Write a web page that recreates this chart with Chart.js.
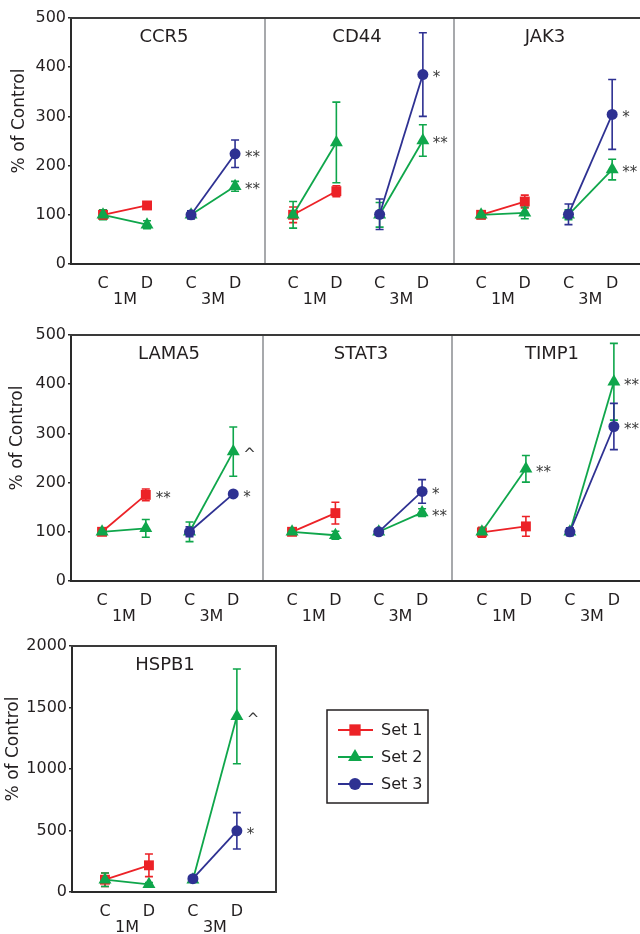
<!DOCTYPE html>
<html>
<head>
<meta charset="utf-8">
<script src="https://cdn.jsdelivr.net/npm/chart.js@4.4.1/dist/chart.umd.min.js"></script>
<style>
  html, body { margin: 0; padding: 0; background: #fff; overflow: hidden; }
  #wrap { position: relative; width: 640px; height: 934px; overflow: hidden; background: #fff; }
  #wrap canvas { position: absolute; left: 0; }
</style>
</head>
<body>
<div id="wrap"></div>
<script>
// ---------------- data ----------------
const genes = ['CCR5', 'CD44', 'JAK3', 'LAMA5', 'STAT3', 'TIMP1', 'HSPB1'];
const categories = ['C', 'D', 'C', 'D'];
const timepoints = ['1M', '3M'];
const seriesNames = ['Set 1', 'Set 2', 'Set 3'];
const yMax = [500, 500, 500, 500, 500, 500, 2000];
const yStep = [100, 100, 100, 100, 100, 100, 500];

// Set 1: 1M (C, D)
const set1Mean = [[100, 119], [100, 148], [100, 127], [100, 175], [100, 138], [99, 111], [100, 217]];
const set1Err  = [[8, 5], [16, 11], [5, 13], [5, 12], [5, 22], [10, 20], [55, 92]];
const set1Marks = ['', '', '', '**', '', '', ''];

// Set 2: 1M (C, D), 3M (C, D)
const set2Mean = [[100, 80, 100, 158], [100, 247, 100, 251], [100, 104, 100, 192], [100, 107, 100, 263],
                  [100, 93, 100, 139], [100, 228, 100, 405], [100, 62, 100, 1428]];
const set2Err  = [[10, 8, 8, 10], [27, 82, 25, 32], [8, 12, 10, 21], [5, 18, 20, 50],
                  [6, 8, 6, 8], [8, 27, 6, 78], [55, 15, 20, 385]];
const set2Marks1M = ['', '', '', '', '', '**', ''];
const set2Marks3M = ['**', '**', '**', '^', '**', '**', '^'];

// Set 3: 3M (C, D)
const set3Mean = [[100, 224], [101, 385], [101, 304], [100, 177], [100, 182], [100, 314], [108, 497]];
const set3Err  = [[8, 28], [31, 85], [21, 71], [10, 4], [5, 24], [8, 47], [20, 148]];
const set3Marks = ['**', '*', '*', '*', '*', '**', '*'];

// ---------------- style / layout ----------------
const COLORS = ['#EC2227', '#0FA64B', '#2E3192'];
const SHAPES = ['rect', 'triangle', 'circle'];
const RADII = [7, 7.5, 5.5];
const TEXT = '#231F20';
const GRAY = '#A7A9AC';
const FONT = '"DejaVu Sans", sans-serif';

// panel placement: row top, plot-left, plot-right, x range, y title x, title centre x
const panels = [
  { g: 0, top: 0,   L: 71,  R: 265, xmin: -0.727, xmax: 3.68, first: true,  divider: true,  titleX: 20, titleCx: 164 },
  { g: 1, top: 0,   L: 265, R: 454, xmin: -0.65,  xmax: 3.72, first: false, divider: true,  titleCx: 357 },
  { g: 2, top: 0,   L: 454, R: 648, xmin: -0.62,  xmax: 3.82, first: false, divider: false, titleCx: 545 },
  { g: 3, top: 317, L: 71,  R: 263, xmin: -0.71,  xmax: 3.68, first: true,  divider: true,  titleX: 18, titleCx: 169 },
  { g: 4, top: 317, L: 263, R: 452, xmin: -0.67,  xmax: 3.69, first: false, divider: true,  titleCx: 361 },
  { g: 5, top: 317, L: 452, R: 646, xmin: -0.68,  xmax: 3.73, first: false, divider: false, titleCx: 552 },
  { g: 6, top: 628, L: 72,  R: 276, xmin: -0.75,  xmax: 3.89, first: true,  divider: false, box: true, legend: true, titleX: 14, titleCx: 165 }
];

function pts(idxs, vals) { return idxs.map((xi, k) => ({ x: xi, y: vals[k] })); }

function makeDatasets(g) {
  const ds = [];
  ds.push({ s: 0, data: pts([0, 1], set1Mean[g]), errors: set1Err[g], marks: ['', set1Marks[g]], order: 3 });
  ds.push({ s: 1, data: pts([0, 1], set2Mean[g].slice(0, 2)), errors: set2Err[g].slice(0, 2), marks: ['', set2Marks1M[g]], order: 2 });
  ds.push({ s: 1, data: pts([2, 3], set2Mean[g].slice(2, 4)), errors: set2Err[g].slice(2, 4), marks: ['', set2Marks3M[g]], order: 2 });
  ds.push({ s: 2, data: pts([2, 3], set3Mean[g]), errors: set3Err[g], marks: ['', set3Marks[g]], order: 1 });
  return ds.map(d => ({
    label: seriesNames[d.s],
    data: d.data,
    errors: d.errors,
    marks: d.marks,
    order: d.order,
    borderColor: COLORS[d.s],
    backgroundColor: COLORS[d.s],
    borderWidth: 1.8,
    pointStyle: SHAPES[d.s],
    pointRadius: RADII[d.s],
    pointBackgroundColor: COLORS[d.s],
    pointBorderColor: COLORS[d.s],
    pointBorderWidth: 0,
    tension: 0,
    fill: false
  }));
}

function drawMarker(ctx, shape, x, y, r, color) {
  ctx.save();
  ctx.fillStyle = color;
  ctx.beginPath();
  if (shape === 'rect') {
    const s = r * Math.SQRT1_2;
    ctx.rect(x - s, y - s, 2 * s, 2 * s);
  } else if (shape === 'triangle') {
    for (let k = 0; k < 3; k++) {
      const a = k * 2 * Math.PI / 3;
      const px = x + Math.sin(a) * r, py = y - Math.cos(a) * r;
      if (k === 0) ctx.moveTo(px, py); else ctx.lineTo(px, py);
    }
    ctx.closePath();
  } else {
    ctx.arc(x, y, r, 0, Math.PI * 2);
  }
  ctx.fill();
  ctx.restore();
}

const panelPlugin = {
  id: 'panelPlugin',
  beforeDatasetsDraw(chart) {
    const ctx = chart.ctx, xs = chart.scales.x, ys = chart.scales.y;
    ctx.save();
    chart.data.datasets.forEach(ds => {
      ctx.strokeStyle = ds.borderColor;
      ctx.lineWidth = 1.6;
      ds.data.forEach((p, j) => {
        const e = ds.errors[j];
        if (!e) return;
        const x = xs.getPixelForValue(p.x);
        const y1 = ys.getPixelForValue(p.y + e);
        const y2 = ys.getPixelForValue(p.y - e);
        ctx.beginPath();
        ctx.moveTo(x, y1); ctx.lineTo(x, y2);
        ctx.moveTo(x - 4, y1); ctx.lineTo(x + 4, y1);
        ctx.moveTo(x - 4, y2); ctx.lineTo(x + 4, y2);
        ctx.stroke();
      });
    });
    ctx.restore();
  },
  afterDatasetsDraw(chart) {
    const ctx = chart.ctx, xs = chart.scales.x, ys = chart.scales.y;
    ctx.save();
    ctx.fillStyle = '#3a3a3a';
    ctx.font = '15px ' + FONT;
    ctx.textAlign = 'left';
    ctx.textBaseline = 'middle';
    chart.data.datasets.forEach(ds => {
      ds.data.forEach((p, j) => {
        const m = ds.marks[j];
        if (!m) return;
        const x = xs.getPixelForValue(p.x);
        const y = ys.getPixelForValue(p.y);
        ctx.fillText(m, x + 10, y + 4);
      });
    });
    ctx.restore();
  },
  afterDraw(chart) {
    const o = chart.options.plugins.panelPlugin;
    const ctx = chart.ctx, a = chart.chartArea, xs = chart.scales.x;
    ctx.save();
    // top frame line
    ctx.strokeStyle = '#3a3a3a';
    ctx.lineWidth = 2;
    ctx.beginPath();
    ctx.moveTo(a.left - 1, a.top); ctx.lineTo(a.right, a.top);
    ctx.stroke();
    if (o.divider) {
      ctx.strokeStyle = GRAY;
      ctx.beginPath();
      ctx.moveTo(a.right, a.top + 1); ctx.lineTo(a.right, a.bottom - 1);
      ctx.stroke();
    }
    if (o.box) {
      ctx.strokeStyle = '#3a3a3a';
      ctx.beginPath();
      ctx.moveTo(a.right, a.top - 1); ctx.lineTo(a.right, a.bottom + 1);
      ctx.stroke();
    }
    // time-point labels under the C/D pairs
    ctx.fillStyle = TEXT;
    ctx.font = '16px ' + FONT;
    ctx.textAlign = 'center';
    ctx.textBaseline = 'middle';
    timepoints.forEach((t, i) => {
      ctx.fillText(t, xs.getPixelForValue(i * 2 + 0.5), a.bottom + 36);
    });
    // panel title
    ctx.font = '18px ' + FONT;
    ctx.fillText(o.title, o.titleCx, a.top + 19);
    // y axis title
    if (o.first) {
      ctx.save();
      ctx.translate(o.titleX, a.top + 103);
      ctx.rotate(-Math.PI / 2);
      ctx.font = '17px ' + FONT;
      ctx.fillText('% of Control', 0, 0);
      ctx.restore();
    }
    // legend
    if (o.legend) {
      const bx = 327, by = 82, bw = 101, bh = 93;
      ctx.strokeStyle = TEXT;
      ctx.lineWidth = 1.5;
      ctx.strokeRect(bx, by, bw, bh);
      seriesNames.forEach((name, i) => {
        const y = by + 20 + i * 27;
        ctx.strokeStyle = COLORS[i];
        ctx.lineWidth = 1.8;
        ctx.beginPath();
        ctx.moveTo(bx + 11, y); ctx.lineTo(bx + 46, y);
        ctx.stroke();
        drawMarker(ctx, SHAPES[i], bx + 28, y, RADII[i] + (i === 0 ? 1 : 0.5), COLORS[i]);
        ctx.fillStyle = TEXT;
        ctx.font = '16px ' + FONT;
        ctx.textAlign = 'left';
        ctx.textBaseline = 'middle';
        ctx.fillText(name, bx + 54, y + 1);
      });
    }
    ctx.restore();
  }
};

const wrap = document.getElementById('wrap');
panels.forEach(p => {
  const cv = document.createElement('canvas');
  cv.width = 660; cv.height = 320;
  cv.style.top = p.top + 'px';
  cv.style.width = '660px'; cv.style.height = '320px';
  wrap.appendChild(cv);
  const g = p.g;
  new Chart(cv, {
    type: 'line',
    data: { datasets: makeDatasets(g) },
    options: {
      responsive: false,
      animation: false,
      devicePixelRatio: 1,
      events: [],
      layout: { padding: { left: p.first ? 0 : p.L, right: 660 - p.R, top: 18, bottom: 0 } },
      plugins: {
        legend: { display: false },
        tooltip: { enabled: false },
        panelPlugin: { title: genes[g], first: p.first, divider: p.divider, box: !!p.box, legend: !!p.legend,
                       titleX: p.titleX, titleCx: p.titleCx }
      },
      scales: {
        x: {
          type: 'linear', position: 'bottom',
          min: p.xmin, max: p.xmax,
          afterBuildTicks: s => { s.ticks = categories.map((c, i) => ({ value: i })); },
          afterFit: s => { s.height = 56; },
          ticks: { callback: (v, i) => categories[i], padding: 2, autoSkip: false, maxRotation: 0,
                   color: TEXT, font: { family: FONT, size: 16 } },
          grid: { display: false },
          border: { display: true, color: '#2a2a2a', width: 2 }
        },
        y: {
          type: 'linear', min: 0, max: yMax[g],
          display: p.first,
          afterFit: s => { s.width = p.first ? p.L : 0; },
          ticks: { stepSize: yStep[g], padding: 2, color: TEXT, font: { family: FONT, size: 16 },
                   callback: v => String(v) },
          grid: { display: true, drawOnChartArea: false, drawTicks: true, tickLength: 3, color: '#2a2a2a', lineWidth: 1.5 },
          border: { display: true, color: '#2a2a2a', width: 2 }
        }
      }
    },
    plugins: [panelPlugin]
  });
});
</script>
</body>
</html>
